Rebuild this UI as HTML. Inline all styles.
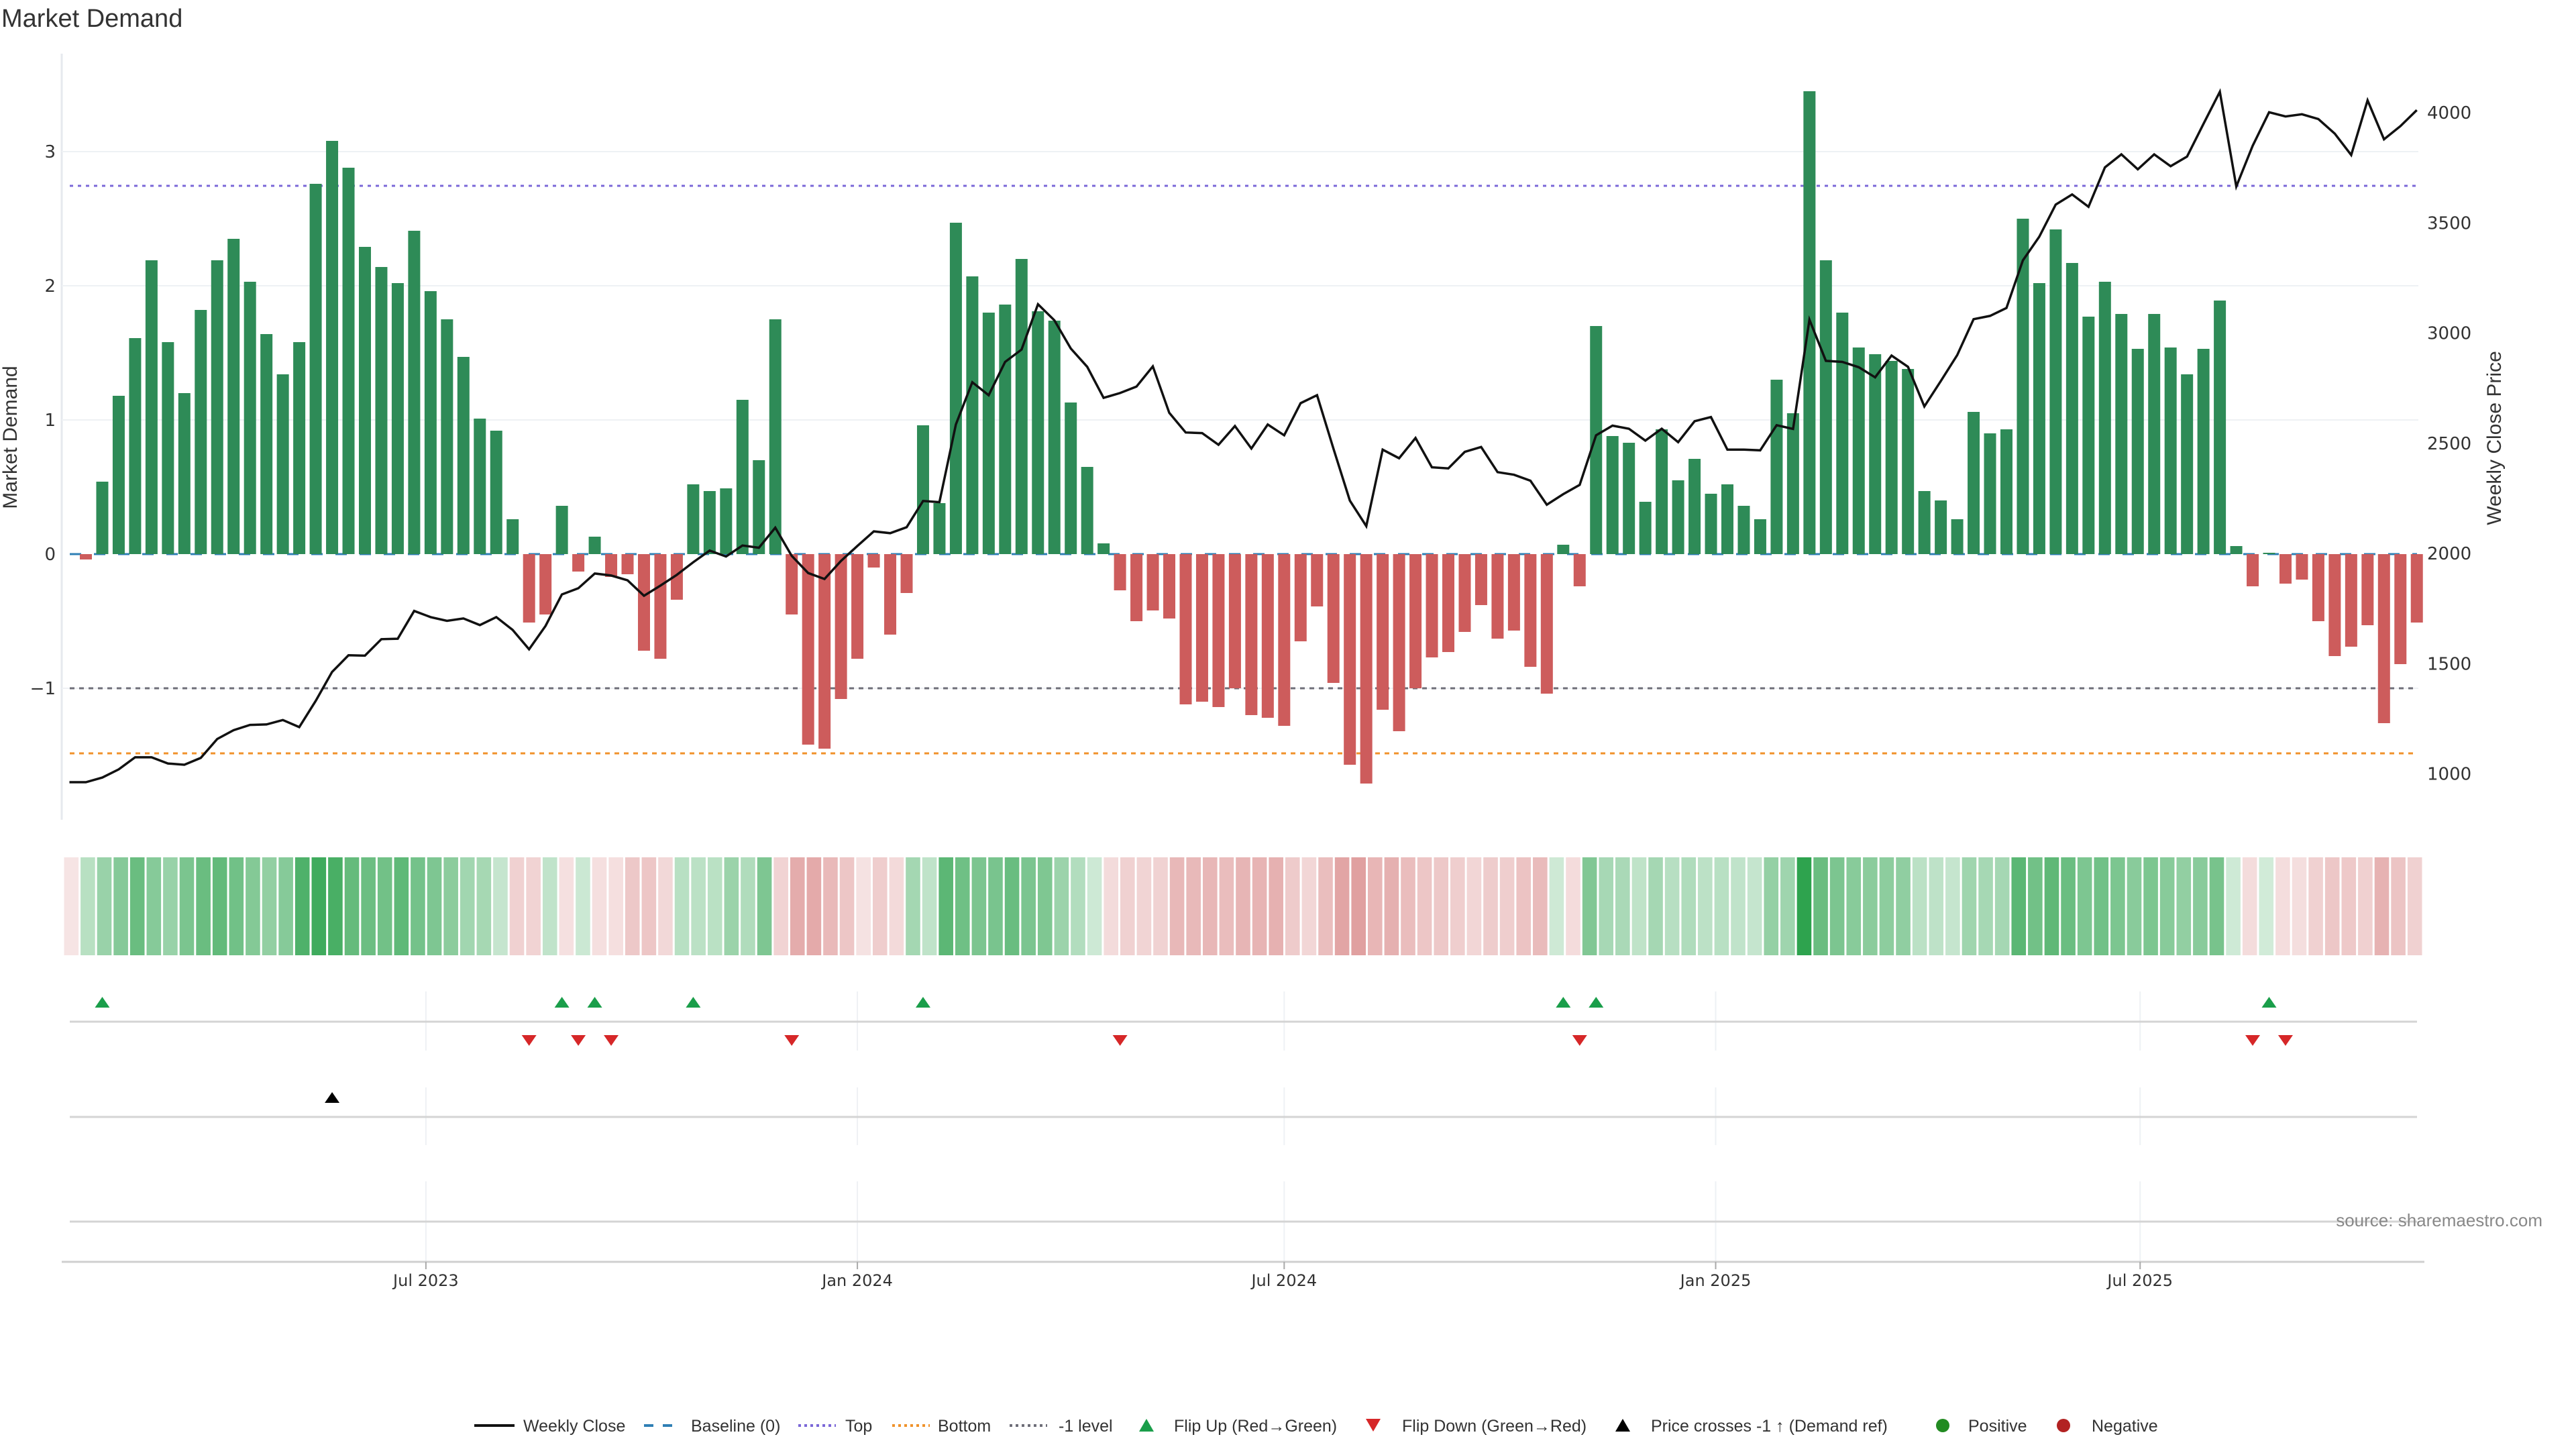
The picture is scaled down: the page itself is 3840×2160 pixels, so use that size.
<!DOCTYPE html>
<html><head><meta charset="utf-8"><style>
html,body{margin:0;padding:0;background:#fff;}
svg{display:block;}
text{font-family:"DejaVu Sans","Liberation Sans",sans-serif;}
.lbl{font-family:"Liberation Sans",sans-serif;}
</style></head><body>
<svg id="chart" width="3840" height="2160" viewBox="0 0 3840 2160" xmlns="http://www.w3.org/2000/svg">
<text class="lbl" x="2" y="40" font-size="38" fill="#333">Market Demand</text>
<g id="main"></g>
<g id="heat"></g>
<g id="events"></g>
<g id="legend"></g>
<text class="lbl" x="3790" y="1828" font-size="26" fill="#888" text-anchor="end">source: sharemaestro.com</text>
</svg>
<script>
const demand=[-0.04,0.54,1.18,1.61,2.19,1.58,1.20,1.82,2.19,2.35,2.03,1.64,1.34,1.58,2.76,3.08,2.88,2.29,2.14,2.02,2.41,1.96,1.75,1.47,1.01,0.92,0.26,-0.51,-0.45,0.36,-0.13,0.13,-0.17,-0.15,-0.72,-0.78,-0.34,0.52,0.47,0.49,1.15,0.70,1.75,-0.45,-1.42,-1.45,-1.08,-0.78,-0.10,-0.60,-0.29,0.96,0.38,2.47,2.07,1.80,1.86,2.20,1.81,1.74,1.13,0.65,0.08,-0.27,-0.50,-0.42,-0.48,-1.12,-1.10,-1.14,-1.00,-1.20,-1.22,-1.28,-0.65,-0.39,-0.96,-1.57,-1.71,-1.16,-1.32,-1.00,-0.77,-0.73,-0.58,-0.38,-0.63,-0.57,-0.84,-1.04,0.07,-0.24,1.70,0.88,0.83,0.39,0.93,0.55,0.71,0.45,0.52,0.36,0.26,1.30,1.05,3.45,2.19,1.80,1.54,1.49,1.44,1.38,0.47,0.40,0.26,1.06,0.90,0.93,2.50,2.02,2.42,2.17,1.77,2.03,1.79,1.53,1.79,1.54,1.34,1.53,1.89,0.06,-0.24,0.01,-0.22,-0.19,-0.50,-0.76,-0.69,-0.53,-1.26,-0.82,-0.51];
const price=[962,962,983,1020,1075,1075,1047,1041,1072,1158,1198,1222,1224,1244,1212,1331,1462,1538,1536,1611,1613,1739,1711,1694,1705,1675,1711,1653,1565,1671,1814,1842,1909,1900,1878,1808,1854,1903,1960,2013,1986,2036,2026,2117,1989,1911,1884,1966,2034,2100,2092,2119,2238,2233,2585,2777,2718,2869,2925,3131,3058,2930,2847,2706,2728,2757,2849,2638,2549,2546,2493,2578,2476,2585,2536,2682,2718,2476,2240,2124,2471,2432,2524,2391,2386,2461,2483,2369,2357,2330,2221,2269,2311,2536,2580,2566,2512,2566,2505,2600,2619,2471,2471,2468,2582,2565,3061,2874,2869,2845,2799,2898,2847,2667,2782,2900,3063,3078,3114,3330,3437,3583,3629,3573,3752,3811,3743,3811,3757,3801,3949,4095,3665,3850,4002,3983,3993,3971,3905,3808,4056,3879,3939,4012];
const flipUp=[1,29,31,37,51,90,92,133];
const flipDown=[27,30,32,43,63,91,132,134];
const priceCross=[15];
const demandTicks=[-1,0,1,2,3];
const demandTickLabels=["\u22121","0","1","2","3"];
const priceTicks=[1000,1500,2000,2500,3000,3500,4000];
const levelTop=2.745, levelMinus1=-1, levelBottom=-1.485;
const tickDates=["2023-07-01","2024-01-01","2024-07-01","2025-01-01","2025-07-01"];
const tickLabels=["Jul 2023","Jan 2024","Jul 2024","Jan 2025","Jul 2025"];
const startDate="2023-02-06";

const NS="http://www.w3.org/2000/svg";
function mk(parent,tag,attrs,txt){const e=document.createElementNS(NS,tag);for(const k in attrs)e.setAttribute(k,attrs[k]);if(txt!==undefined)e.textContent=txt;parent.appendChild(e);return e;}
const STEP=24.47, X0=128;
const xBar=i=>X0+i*STEP;
const xLine=j=>xBar(j-1);
const yD=v=>826-v*200;
const yP=p=>825-(p-2000)*0.3285;
const t0=new Date(startDate+"T00:00:00Z").getTime();
const xDate=d=>X0+(new Date(d+"T00:00:00Z").getTime()-t0)/(7*864e5)*STEP;

const main=document.getElementById('main');
let e=mk(main,'line',{x1:92,y1:80,x2:92,y2:1222,stroke:'#e6e9ee','stroke-width':3});

demandTicks.forEach((v,i)=>{
  if(v!==0){let g=mk(main,'line',{x1:92,y1:yD(v),x2:3605,y2:yD(v),stroke:'#eef1f4','stroke-width':2});
  }
  let t=mk(main,'text',{x:83,y:yD(v)+9,'font-size':26,fill:'#333','text-anchor':'end'},demandTickLabels[i]);
  
});
priceTicks.forEach(p=>{
  let t=mk(main,'text',{x:3618,y:yP(p)+9,'font-size':26,fill:'#333'},String(p));
  
});
e=mk(main,'text',{class:'lbl',x:25,y:652,'font-size':30,fill:'#333','text-anchor':'middle',transform:'rotate(-90 25 652)'},'Market Demand');

e=mk(main,'text',{class:'lbl',x:3728,y:653,'font-size':30,fill:'#333','text-anchor':'middle',transform:'rotate(-90 3728 653)'},'Weekly Close Price');

e=mk(main,'line',{x1:104,y1:yD(levelTop),x2:3603,y2:yD(levelTop),stroke:'#7b68d8','stroke-width':3,'stroke-dasharray':'5 7'});

e=mk(main,'line',{x1:104,y1:yD(levelMinus1),x2:3603,y2:yD(levelMinus1),stroke:'#6e6e78','stroke-width':3,'stroke-dasharray':'7 7'});

e=mk(main,'line',{x1:104,y1:yD(levelBottom),x2:3603,y2:yD(levelBottom),stroke:'#f0922b','stroke-width':3,'stroke-dasharray':'7 7'});

e=mk(main,'line',{x1:104,y1:yD(0),x2:3603,y2:yD(0),stroke:'#2f7fb5','stroke-width':3,'stroke-dasharray':'17 19'});

demand.forEach((v,i)=>{
  const y1=yD(Math.max(v,0)),y2=yD(Math.min(v,0));
  let r=mk(main,'rect',{x:xBar(i)-9,y:y1,width:18,height:Math.max(y2-y1,1),fill:v>=0?'#2e8b57':'#cd5c5c'});
  
});
let pts=price.map((p,j)=>xLine(j).toFixed(1)+','+yP(p).toFixed(1)).join(' ');
e=mk(main,'polyline',{points:pts,fill:'none',stroke:'#111','stroke-width':3.5,'stroke-linejoin':'miter'});


const heat=document.getElementById('heat');
const n=demand.length, hx0=94, hw=(3612-94)/n;
const maxPos=Math.max(...demand), maxNeg=Math.max(...demand.map(v=>-v));
function mix(c,t){return 'rgb('+c.map(x=>Math.round(255+(x-255)*t)).join(',')+')';}
demand.forEach((v,i)=>{
  const col=v>=0?mix([46,163,78],0.22+0.78*v/maxPos):mix([214,128,128],0.2+0.55*(-v)/maxNeg);
  let r=mk(heat,'rect',{x:hx0+i*hw+1.5,y:1278,width:hw-3,height:146,fill:col});
  
});

const ev=document.getElementById('events');
[[1478,1566],[1621,1707],[1761,1881]].forEach(rg=>{
  tickDates.forEach(d=>{let l=mk(ev,'line',{x1:xDate(d),y1:rg[0],x2:xDate(d),y2:rg[1],stroke:'#eef1f4','stroke-width':2});
  });
});
[1523,1665,1821].forEach(y=>{let l=mk(ev,'line',{x1:104,y1:y,x2:3603,y2:y,stroke:'#d4d4d4','stroke-width':3});
  });
e=mk(ev,'line',{x1:92,y1:1881,x2:3614,y2:1881,stroke:'#cfcfcf','stroke-width':3});

tickDates.forEach((d,i)=>{
  let l=mk(ev,'line',{x1:xDate(d),y1:1881,x2:xDate(d),y2:1892,stroke:'#aaa','stroke-width':2});
  
  let t=mk(ev,'text',{x:xDate(d),y:1917,'font-size':24,fill:'#333','text-anchor':'middle'},tickLabels[i]);
  
});
function triUp(x,y,c){return mk(ev,'polygon',{points:`${x-11},${y+8} ${x+11},${y+8} ${x},${y-8}`,fill:c});}
function triDown(x,y,c){return mk(ev,'polygon',{points:`${x-11},${y-8} ${x+11},${y-8} ${x},${y+8}`,fill:c});}
flipUp.forEach(i=>{let t=triUp(xBar(i),1494,'#1a9e4a');});
flipDown.forEach(i=>{let t=triDown(xBar(i),1551,'#d62728');});
priceCross.forEach(i=>{let t=triUp(xBar(i),1636,'#000');});

const lg=document.getElementById('legend');
const LY=2125;
function ltext(x,s){let t=mk(lg,'text',{class:'lbl',x:x,y:LY+9,'font-size':25,fill:'#333'},s);}
e=mk(lg,'line',{x1:707,y1:LY,x2:767,y2:LY,stroke:'#111','stroke-width':4});
ltext(780,'Weekly Close');
e=mk(lg,'line',{x1:960,y1:LY,x2:1016,y2:LY,stroke:'#2f7fb5','stroke-width':4,'stroke-dasharray':'14 14'});
ltext(1030,'Baseline (0)');
e=mk(lg,'line',{x1:1190,y1:LY,x2:1246,y2:LY,stroke:'#7b68d8','stroke-width':4,'stroke-dasharray':'4 5'});
ltext(1260,'Top');
e=mk(lg,'line',{x1:1330,y1:LY,x2:1386,y2:LY,stroke:'#f0922b','stroke-width':4,'stroke-dasharray':'4 5'});
ltext(1398,'Bottom');
e=mk(lg,'line',{x1:1505,y1:LY,x2:1561,y2:LY,stroke:'#6e6e78','stroke-width':4,'stroke-dasharray':'4 5'});
ltext(1578,'-1 level');
e=mk(lg,'polygon',{points:`1698,${LY+9} 1720,${LY+9} 1709,${LY-10}`,fill:'#1a9e4a'});
ltext(1750,'Flip Up (Red\u2192Green)');
e=mk(lg,'polygon',{points:`2036,${LY-10} 2058,${LY-10} 2047,${LY+9}`,fill:'#d62728'});
ltext(2090,'Flip Down (Green\u2192Red)');
e=mk(lg,'polygon',{points:`2408,${LY+9} 2430,${LY+9} 2419,${LY-10}`,fill:'#000'});
ltext(2461,'Price crosses -1 \u2191 (Demand ref)');
e=mk(lg,'circle',{cx:2896,cy:LY,r:10,fill:'#228b22'});
ltext(2934,'Positive');
e=mk(lg,'circle',{cx:3076,cy:LY,r:10,fill:'#b22222'});
ltext(3118,'Negative');
</script>
</body></html>
